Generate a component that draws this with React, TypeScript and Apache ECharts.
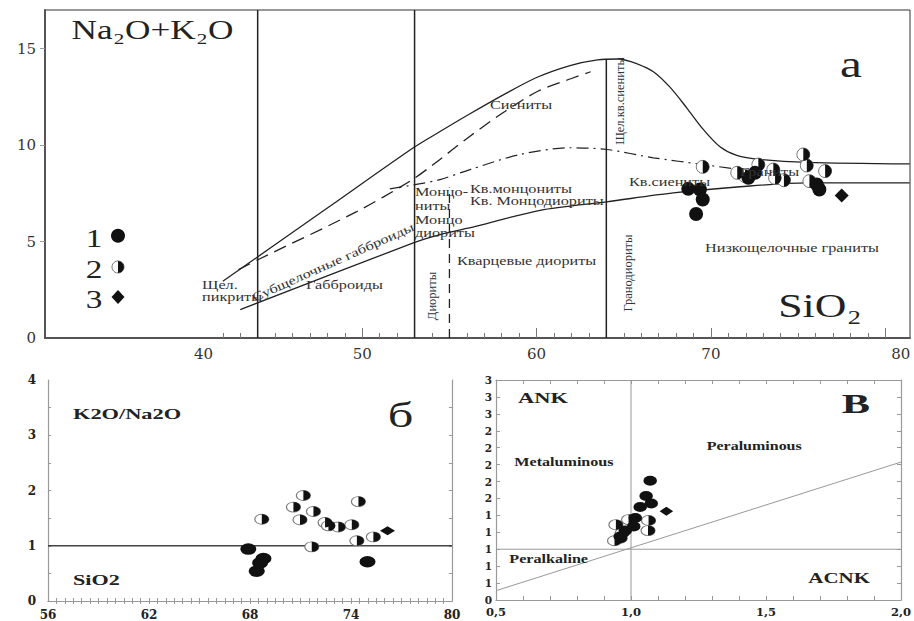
import React, { useEffect, useRef } from 'react';
import * as echarts from 'echarts';

// ---------- Panel "a": TAS diagram (SiO2 vs Na2O+K2O) ----------
const tasXLabels = [40, 50, 60, 70, 80];
const tasYLabels = [0, 5, 10, 15];
const tasYTicks = [5, 10, 15];
const tasMajorTicks = [50, 60, 70, 80];
const tasMinorTicks = [42, 43, 44, 45, 46, 47, 48, 49, 50, 51, 52, 53, 54, 55, 56, 57, 58, 59, 60, 61, 62, 63, 64, 65, 66, 67, 68, 69, 70, 71, 72, 73, 74, 75, 76, 77, 78, 79, 80];

const upperCurve = [[42.0, 2.94], [48.1, 6.8], [52.93, 9.86], [54.46, 10.7], [56.18, 11.62], [58.09, 12.6], [60.0, 13.5], [61.92, 14.12], [63.5, 14.42], [64.7, 14.46], [65.8, 14.2], [66.7, 13.8], [67.65, 13.0], [68.61, 11.93], [69.56, 10.81], [70.52, 9.91], [71.48, 9.46], [72.82, 9.25], [75.5, 9.1], [81.4, 9.02]];
const dashedCurve = [[42.9, 3.54], [44.07, 4.08], [49.68, 6.55], [52.74, 8.13], [54.07, 8.99], [56.18, 10.46], [58.2, 11.75], [60.1, 12.8], [62.0, 13.45], [63.1, 13.8]];
const dashDotCurve = [[51.58, 7.73], [53.1, 7.96], [54.46, 8.21], [56.18, 8.73], [59.05, 9.51], [61.92, 9.86], [64.02, 9.77], [66.7, 9.34], [69.56, 8.99], [71.48, 8.75]];
const lowerCurve = [[43.0, 1.47], [52.93, 4.93], [54.46, 5.36], [56.5, 5.78], [60.2, 6.62], [64.02, 7.06], [67.84, 7.52], [71.67, 7.84], [75.5, 8.04], [81.4, 8.04]];
const line44 = [[44, 0], [44, 17]];
const line53 = [[53, 0], [53, 17]];
const line55 = [[55, 0], [55, 7.8]];
const line64 = [[64, 0], [64, 14.45]];

const tasFull = [[68.7, 7.73], [69.37, 7.7], [69.53, 7.18], [69.15, 6.43], [72.15, 8.3], [72.53, 8.56], [76.07, 7.96], [76.22, 7.7]];
const tasHalf = [[69.53, 8.87], [71.51, 8.56], [71.96, 8.39], [72.72, 8.99], [73.58, 8.73], [73.68, 8.3], [74.19, 8.18], [75.3, 9.51], [75.5, 8.94], [75.65, 8.13], [76.55, 8.65]];
const tasDiamond = [[77.5, 7.38]];

// ---------- Panel "б": SiO2 vs K2O/Na2O ----------
const bXLabels = [56, 62, 68, 74, 80];
const bYLabels = [0, 1, 2, 3, 4];
const bRatioLine = [[56, 1], [80, 1]];
const bFull = [[67.9, 0.94], [68.8, 0.77], [68.6, 0.69], [68.4, 0.54], [74.98, 0.71]];
const bHalf = [[68.7, 1.48], [71.17, 1.91], [70.58, 1.7], [70.97, 1.47], [71.77, 1.62], [74.44, 1.8], [72.46, 1.42], [72.66, 1.36], [73.25, 1.34], [74.05, 1.38], [74.35, 1.09], [75.33, 1.16], [71.67, 0.98]];
const bDiamond = [[76.17, 1.27]];

// ---------- Panel "В": ACNK vs ANK ----------
const cXLabels = [0.5, 1.0, 1.5, 2.0];
const cYLabels = [0.4, 0.6, 0.8, 1.0, 1.2, 1.4, 1.6, 1.8, 2.0, 2.2, 2.4, 2.6, 2.8, 3.0];
const cVertical = [[1, 0.4], [1, 3.0]];
const cHorizontal = [[0.5, 1], [2.0, 1]];
const cDiagonal = [[0.5, 0.51], [2.0, 2.03]];
const cFull = [[1.071, 1.81], [1.056, 1.63], [1.075, 1.54], [1.034, 1.5], [1.016, 1.37], [1.01, 1.27], [0.979, 1.22], [0.96, 1.15]];
const cHalf = [[0.944, 1.29], [0.96, 1.13], [0.991, 1.35], [1.065, 1.34], [1.063, 1.22], [0.939, 1.1], [0.967, 1.19]];
const cDiamond = [[1.131, 1.45]];

const steps = (a: number, b: number, s: number) => {
  const out: number[] = [];
  for (let v = a; v <= b + 1e-9; v += s) out.push(Math.round(v * 1000) / 1000);
  return out;
};

const SERIF = "'Liberation Serif', 'Times New Roman', serif";
const AXF = "'DejaVu Serif', serif";
const ELL = 'path://M0,10A10,10 0 1 1 20,10A10,10 0 1 1 0,10Z';
const HALF = 'path://M0,0A10,10 0 0 1 0,20Z';

function markerSeries(full: number[][], half: number[][], diam: number[][], xi: number, yi: number, fs: number[], hs: number[], ds: number[]) {
  return [
    { type: 'scatter', xAxisIndex: xi, yAxisIndex: yi, data: half, symbol: ELL, symbolSize: hs, itemStyle: { color: '#fff', borderColor: '#777', borderWidth: 1, opacity: 1 }, z: 3, silent: true },
    { type: 'scatter', xAxisIndex: xi, yAxisIndex: yi, data: half, symbol: HALF, symbolSize: [hs[0] / 2, hs[1]], symbolOffset: [hs[0] / 4, 0], itemStyle: { color: '#111', opacity: 1 }, z: 4, silent: true },
    { type: 'scatter', xAxisIndex: xi, yAxisIndex: yi, data: full, symbol: ELL, symbolSize: fs, itemStyle: { color: '#111', opacity: 1 }, z: 5, silent: true },
    { type: 'scatter', xAxisIndex: xi, yAxisIndex: yi, data: diam, symbol: 'diamond', symbolSize: ds, itemStyle: { color: '#111', opacity: 1 }, z: 5, silent: true },
  ];
}

function lineS(data: number[][], xi: number, yi: number, color: string, width: number, type: any = 'solid', smooth: any = false) {
  return {
    type: 'line', xAxisIndex: xi, yAxisIndex: yi, data, symbol: 'none', silent: true, z: 2,
    smooth,
    lineStyle: { color, width, type },
  };
}

function txt(text: string, x: number, y: number, size: number, o: any = {}) {
  return {
    type: 'text', x, y, rotation: o.rot || 0, scaleX: o.sx === undefined ? 1.3 : o.sx, z: 100, silent: true,
    style: {
      text, fontSize: size, fontFamily: SERIF, fontWeight: o.bold ? 'bold' : 'normal',
      fill: o.color || '#333', align: o.align || 'left', verticalAlign: 'middle',
    },
  };
}

export default function App() {
  const ref = useRef<HTMLDivElement>(null);
  useEffect(() => {
    if (!ref.current) return;
    const chart = echarts.init(ref.current, null, { renderer: 'svg' });
    const grayTick = { color: '#999', width: 1 };
    const boxLine = { show: true, lineStyle: { color: '#999', width: 1.2 } };
    const bLabel = { fontFamily: AXF, fontWeight: 'bold', fontSize: 12, color: '#222' };

    const option: any = {
      animation: false,
      backgroundColor: '#fff',
      grid: [
        { left: 45, top: 10, width: 865, height: 328, show: true, borderColor: '#333', borderWidth: 1, containLabel: false, outerBoundsMode: 'none' },
        { left: 48, top: 380, width: 404, height: 221, show: false, containLabel: false, outerBoundsMode: 'none' },
        { left: 496, top: 380, width: 405, height: 220, show: false, containLabel: false, outerBoundsMode: 'none' },
      ],
      xAxis: [
        {
          gridIndex: 0, type: 'value', min: 31.8, max: 81.42, position: 'bottom',
          axisLine: { show: true, onZero: false, lineStyle: { color: '#555', width: 2 } },
          axisTick: { show: true, inside: true, length: 5, customValues: tasMinorTicks, lineStyle: { color: '#777', width: 1 } },
          axisLabel: {
            show: true, customValues: tasXLabels, margin: 8,
            formatter: (v: number) => (v === 40 || v === 80 ? `{s|${v}}` : `{n|${v}}`),
            rich: {
              n: { fontFamily: AXF, fontSize: 15, color: '#333' },
              s: { fontFamily: AXF, fontSize: 15, color: '#333', padding: [0, 0, 0, 31] },
            },
          },
          splitLine: { show: false },
        },
        {
          gridIndex: 0, type: 'value', min: 31.8, max: 81.42, position: 'bottom',
          axisLine: { show: false },
          axisTick: { show: true, inside: true, length: 10, customValues: tasMajorTicks, lineStyle: { color: '#777', width: 1 } },
          axisLabel: { show: false }, splitLine: { show: false },
        },
        {
          gridIndex: 1, type: 'value', min: 56, max: 80, position: 'bottom',
          axisLine: boxLine,
          axisTick: { show: true, inside: true, length: 3, customValues: steps(56.5, 79.5, 0.5), lineStyle: grayTick },
          axisLabel: { show: true, customValues: bXLabels, margin: 8, lineHeight: 11, ...bLabel },
          splitLine: { show: false },
        },
        {
          gridIndex: 1, type: 'value', min: 56, max: 80, position: 'top',
          axisLine: boxLine,
          axisTick: { show: true, inside: true, length: 3, customValues: steps(56.5, 79.5, 0.5), lineStyle: grayTick },
          axisLabel: { show: false }, splitLine: { show: false },
        },
        {
          gridIndex: 2, type: 'value', min: 0.5, max: 2.0, position: 'bottom',
          axisLine: boxLine,
          axisTick: { show: true, inside: true, length: 4, customValues: steps(0.6, 1.9, 0.1), lineStyle: grayTick },
          axisLabel: { show: true, customValues: cXLabels, margin: 7, lineHeight: 10, formatter: (v: number) => v.toFixed(1).replace('.', ','), ...bLabel, fontSize: 11.5 },
          splitLine: { show: false },
        },
        {
          gridIndex: 2, type: 'value', min: 0.5, max: 2.0, position: 'top',
          axisLine: boxLine,
          axisTick: { show: true, inside: true, length: 4, customValues: steps(0.6, 1.9, 0.1), lineStyle: grayTick },
          axisLabel: { show: false }, splitLine: { show: false },
        },
      ],
      yAxis: [
        {
          gridIndex: 0, type: 'value', min: 0, max: 17, position: 'left',
          axisLine: { show: true, onZero: false, lineStyle: { color: '#555', width: 2 } },
          axisTick: { show: true, inside: false, length: 5, customValues: tasYTicks, lineStyle: { color: '#999', width: 1 } },
          axisLabel: { show: true, customValues: tasYLabels, margin: 9, fontFamily: AXF, fontSize: 15, color: '#333' },
          splitLine: { show: false },
        },
        {
          gridIndex: 1, type: 'value', min: 0, max: 4, position: 'left',
          axisLine: boxLine,
          axisTick: { show: true, inside: true, length: 3, customValues: steps(0.5, 3.5, 0.5), lineStyle: grayTick },
          axisLabel: { show: true, customValues: bYLabels, margin: 12, ...bLabel },
          splitLine: { show: false },
        },
        {
          gridIndex: 1, type: 'value', min: 0, max: 4, position: 'right',
          axisLine: boxLine,
          axisTick: { show: true, inside: true, length: 3, customValues: steps(0.5, 3.5, 0.5), lineStyle: grayTick },
          axisLabel: { show: false }, splitLine: { show: false },
        },
        {
          gridIndex: 2, type: 'value', min: 0.4, max: 3.0, position: 'left',
          axisLine: boxLine,
          axisTick: { show: true, inside: true, length: 4, customValues: cYLabels, lineStyle: grayTick },
          axisLabel: { show: true, customValues: cYLabels, margin: 4, lineHeight: 8, formatter: (v: number) => String(Math.round(v)), ...bLabel, fontSize: 10.5 },
          splitLine: { show: false },
        },
        {
          gridIndex: 2, type: 'value', min: 0.4, max: 3.0, position: 'right',
          axisLine: boxLine,
          axisTick: { show: true, inside: true, length: 4, customValues: cYLabels, lineStyle: grayTick },
          axisLabel: { show: false }, splitLine: { show: false },
        },
      ],
      series: [
        lineS(line44, 0, 0, '#222', 1.5),
        lineS(line53, 0, 0, '#222', 1.5),
        lineS(line55, 0, 0, '#222', 1.3, [9, 6]),
        lineS(line64, 0, 0, '#222', 1.5),
        lineS(upperCurve, 0, 0, '#222', 1.3, 'solid', 0.3),
        lineS(dashedCurve, 0, 0, '#222', 1.3, [13, 7], 0.3),
        lineS(dashDotCurve, 0, 0, '#222', 1.2, [12, 5, 2, 5], 0.3),
        lineS(lowerCurve, 0, 0, '#222', 1.3, 'solid', 0.3),
        ...markerSeries(tasFull, tasHalf, tasDiamond, 0, 0, [14, 14], [13, 13], [14, 14]),
        lineS(bRatioLine, 2, 1, '#444', 1.5),
        ...markerSeries(bFull, bHalf, bDiamond, 2, 1, [16, 11.5], [14, 10], [15, 9]),
        lineS(cVertical, 4, 3, '#999', 1),
        lineS(cHorizontal, 4, 3, '#999', 1),
        lineS(cDiagonal, 4, 3, '#999', 1),
        ...markerSeries(cFull, cHalf, cDiamond, 4, 3, [13.5, 10], [14, 10], [13.5, 9]),
      ],
      graphic: {
        elements: [
          txt('Na₂O+K₂O', 152.5, 30.4, 26.5, { align: 'center', sx: 1.33, color: '#222' }),
          txt('a', 851, 64.5, 37, { align: 'center', sx: 1.33, color: '#222' }),
          txt('SiO₂', 820, 305.6, 33, { align: 'center', sx: 1.33, color: '#222' }),
          txt('1', 94, 238.3, 25, { align: 'center', sx: 1.33, color: '#222' }),
          txt('2', 94, 269.9, 25, { align: 'center', sx: 1.33, color: '#222' }),
          txt('3', 94, 299.9, 25, { align: 'center', sx: 1.33, color: '#222' }),
          { type: 'circle', z: 100, silent: true, shape: { cx: 118, cy: 235.7, r: 7 }, style: { fill: '#111' } },
          { type: 'circle', z: 100, silent: true, shape: { cx: 118, cy: 267, r: 6 }, style: { fill: '#fff', stroke: '#777', lineWidth: 1 } },
          { type: 'sector', z: 101, silent: true, shape: { cx: 118, cy: 267, r0: 0, r: 6, startAngle: -Math.PI / 2, endAngle: Math.PI / 2, clockwise: true }, style: { fill: '#111' } },
          { type: 'polygon', z: 100, silent: true, shape: { points: [[118, 290], [124.5, 297], [118, 304], [111.5, 297]] }, style: { fill: '#111' } },

          txt('Щел.', 202, 285, 12.5),
          txt('пикриты', 202, 297, 12.5),
          txt('Габброиды', 344.5, 285, 12.5, { align: 'center' }),
          txt('Субщелочные габброиды', 333, 262, 12.5, { align: 'center', rot: 0.42 }),
          txt('Диориты', 431.5, 296, 12.5, { align: 'center', rot: Math.PI / 2, sx: 1 }),
          txt('Монцо-', 415, 192, 12.5),
          txt('ниты', 415, 206, 12.5),
          txt('Монцо', 415, 220, 12.5),
          txt('диориты', 415, 233, 12.5),
          txt('Кв.монцониты', 470, 189, 12.5),
          txt('Кв. Монцодиориты', 470, 200.5, 12.5),
          txt('Кварцевые диориты', 457, 261, 12.5),
          txt('Сиениты', 490, 105, 12.5),
          txt('Щел.кв.сиениты', 620, 101, 12.5, { align: 'center', rot: Math.PI / 2, sx: 1 }),
          txt('Гранодиориты', 628, 273, 12.5, { align: 'center', rot: Math.PI / 2, sx: 1 }),
          txt('Кв.сиениты', 629, 182, 12.5),
          txt('Граниты', 740, 172, 12.5),
          txt('Низкощелочные граниты', 705, 248, 12.5),

          txt('K2O/Na2O', 73, 414, 14, { bold: true, sx: 1.6, color: '#222' }),
          txt('SiO2', 73, 580.5, 14, { bold: true, sx: 1.58, color: '#222' }),
          txt('б', 400.5, 414.5, 36, { align: 'center', sx: 1.4, color: '#222' }),

          txt('ANK', 518, 397.7, 15, { bold: true, sx: 1.5, color: '#222' }),
          txt('В', 856, 403.6, 27, { bold: true, align: 'center', sx: 1.57, color: '#222' }),
          txt('Peraluminous', 706.7, 445.5, 12.5, { bold: true, sx: 1.28, color: '#222' }),
          txt('Metaluminous', 514.3, 461.5, 13, { bold: true, sx: 1.24, color: '#222' }),
          txt('Peralkaline', 509.3, 558.5, 12.5, { bold: true, sx: 1.29, color: '#222' }),
          txt('ACNK', 808.3, 578, 15, { bold: true, sx: 1.4, color: '#222' }),
        ],
      },
    };
    chart.setOption(option);
    return () => chart.dispose();
  }, []);
  return <div ref={ref} style={{ position: 'fixed', left: 0, top: 0, width: 914, height: 621, background: '#fff' }} />;
}
